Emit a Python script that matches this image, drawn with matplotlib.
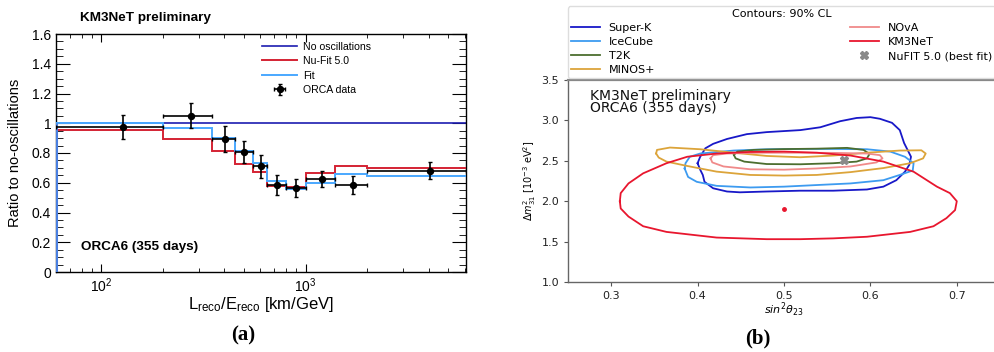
import numpy as np
import matplotlib
matplotlib.use("Agg")
import matplotlib.pyplot as plt
from matplotlib.ticker import FixedLocator, LogLocator, NullFormatter, MultipleLocator, FuncFormatter

plt.rcParams['mathtext.fontset'] = 'custom'
plt.rcParams['mathtext.rm'] = 'Liberation Sans'
plt.rcParams['mathtext.it'] = 'Liberation Sans:italic'

# ---- panel (a): L/E ratio ----
bin_edges = [60, 200, 350, 450, 550, 650, 800, 1000, 1400, 2000, 6100]
data_x = [128, 274, 401, 501, 602, 726, 900, 1200, 1700, 4050]
data_y = [0.975, 1.05, 0.895, 0.805, 0.71, 0.585, 0.565, 0.625, 0.585, 0.68]
data_err = [0.08, 0.085, 0.085, 0.075, 0.075, 0.07, 0.063, 0.053, 0.06, 0.058]
nufit_ratio = [0.952, 0.896, 0.813, 0.726, 0.670, 0.575, 0.570, 0.666, 0.711, 0.700]
fit_ratio = [1.0, 0.97, 0.90, 0.815, 0.735, 0.615, 0.56, 0.595, 0.657, 0.648]
noosc_ratio = 1.0
ratio_ticks = [0, 0.2, 0.4, 0.6, 0.8, 1.0, 1.2, 1.4, 1.6]

# ---- panel (b): 90% CL contours ----
superk_x = [0.400, 0.403, 0.409, 0.418, 0.434, 0.457, 0.480, 0.519, 0.542, 0.565, 0.584, 0.600,
            0.611, 0.625, 0.634, 0.639, 0.643, 0.647, 0.645, 0.640, 0.630, 0.615, 0.596, 0.557,
            0.519, 0.480, 0.449, 0.434, 0.418, 0.408, 0.406, 0.403]
superk_y = [2.47, 2.55, 2.655, 2.71, 2.77, 2.83, 2.855, 2.88, 2.915, 2.99, 3.03, 3.04,
            3.02, 2.97, 2.88, 2.72, 2.635, 2.55, 2.45, 2.365, 2.26, 2.18, 2.145, 2.13,
            2.13, 2.12, 2.11, 2.12, 2.16, 2.24, 2.325, 2.39]
icecube_x = [0.385, 0.386, 0.391, 0.403, 0.442, 0.480, 0.519, 0.557, 0.596, 0.623, 0.640, 0.650,
             0.649, 0.634, 0.615, 0.577, 0.538, 0.500, 0.461, 0.422, 0.399, 0.389]
icecube_y = [2.405, 2.47, 2.55, 2.59, 2.627, 2.643, 2.647, 2.647, 2.643, 2.614, 2.55, 2.47,
             2.38, 2.325, 2.26, 2.22, 2.20, 2.18, 2.17, 2.19, 2.24, 2.30]
t2k_x = [0.442, 0.446, 0.465, 0.500, 0.538, 0.573, 0.592, 0.599, 0.596, 0.584, 0.557, 0.519,
         0.480, 0.454, 0.444]
t2k_y = [2.573, 2.614, 2.635, 2.645, 2.65, 2.66, 2.635, 2.585, 2.53, 2.49, 2.47, 2.457,
         2.46, 2.49, 2.53]
minos_x = [0.352, 0.353, 0.368, 0.403, 0.442, 0.480, 0.519, 0.557, 0.596, 0.634, 0.659, 0.664,
           0.661, 0.646, 0.615, 0.577, 0.538, 0.500, 0.461, 0.422, 0.388, 0.364, 0.355]
minos_y = [2.59, 2.635, 2.664, 2.643, 2.60, 2.56, 2.544, 2.565, 2.60, 2.627, 2.63, 2.59,
           2.53, 2.47, 2.41, 2.36, 2.325, 2.317, 2.325, 2.366, 2.436, 2.49, 2.54]
nova_x = [0.415, 0.418, 0.434, 0.472, 0.519, 0.557, 0.596, 0.611, 0.614, 0.607, 0.577, 0.538,
          0.500, 0.461, 0.430, 0.417]
nova_y = [2.53, 2.57, 2.59, 2.60, 2.60, 2.598, 2.59, 2.57, 2.53, 2.48, 2.43, 2.405,
          2.39, 2.395, 2.43, 2.48]
km3_x = [0.310, 0.311, 0.320, 0.337, 0.364, 0.388, 0.422, 0.461, 0.500, 0.538, 0.577, 0.615,
         0.650, 0.677, 0.692, 0.700, 0.698, 0.688, 0.673, 0.646, 0.596, 0.557, 0.519, 0.480,
         0.422, 0.364, 0.337, 0.320, 0.311]
km3_y = [2.0, 2.10, 2.22, 2.345, 2.47, 2.55, 2.59, 2.61, 2.614, 2.60, 2.565, 2.49,
         2.365, 2.18, 2.10, 2.0, 1.89, 1.79, 1.69, 1.62, 1.56, 1.54, 1.53, 1.53,
         1.55, 1.62, 1.69, 1.81, 1.91]
km3_best = (0.500, 1.90)
nufit_best = (0.570, 2.51)

fig = plt.figure(figsize=(9.95, 3.52), dpi=100)

# ================= panel (a) =================
ax = fig.add_axes([56 / 995, 80 / 352, 410 / 995, 238 / 352])
sans = 'Liberation Sans'

ax.axhline(noosc_ratio, color='#1c1cb0', lw=1.2, label='No oscillations', zorder=2)
ax.stairs(nufit_ratio, bin_edges, baseline=None, color='#d42233', lw=1.4, label='Nu-Fit 5.0', zorder=3)
ax.stairs(fit_ratio, bin_edges, baseline=None, color='#4aa8ff', lw=1.4, label='Fit', zorder=3)
ax.vlines(bin_edges[0], 0, fit_ratio[0], color='#4a7fe0', lw=2.2, zorder=4)

xerr = [np.array(data_x) - np.array(bin_edges[:-1]), np.array(bin_edges[1:]) - np.array(data_x)]
ax.errorbar(data_x, data_y, yerr=data_err, xerr=xerr, fmt='o', color='black', ms=4.3,
            elinewidth=1.2, capsize=1.5, label='ORCA data', zorder=5)

ax.set_xscale('log')
ax.set_xlim(60, 6100)
ax.set_ylim(0, 1.6)
ax.yaxis.set_major_locator(FixedLocator(ratio_ticks))
ax.yaxis.set_minor_locator(MultipleLocator(0.05))
ax.yaxis.set_major_formatter(FuncFormatter(lambda v, p: f"{v:g}"))
ax.xaxis.set_major_locator(LogLocator(base=10))
ax.xaxis.set_minor_locator(LogLocator(base=10, subs=np.arange(2, 10)))
ax.xaxis.set_minor_formatter(NullFormatter())
ax.tick_params(which='both', direction='in', top=True, right=True, labelsize=10)
ax.tick_params(axis='y', which='major', length=10)
ax.tick_params(axis='y', which='minor', length=5)
ax.tick_params(axis='x', which='major', length=6, pad=3)
ax.tick_params(axis='x', which='minor', length=3)
for lab in ax.get_xticklabels() + ax.get_yticklabels():
    lab.set_family(sans)
for s in ax.spines.values():
    s.set_linewidth(1.0)

ax.set_ylabel('Ratio to no-oscillations', fontsize=10.5, family=sans, labelpad=7)
ax.set_xlabel(r'L$_{\rm reco}$/E$_{\rm reco}$ [km/GeV]', fontsize=12, family=sans,
              math_fontfamily='custom', labelpad=0)
ax.xaxis.set_label_coords(0.5, -0.095)

fig.text(80 / 995, 1 - 18 / 352, 'KM3NeT preliminary', fontsize=9.7, fontweight='bold',
         family=sans, va='center')
ax.text(0.06, 0.105, 'ORCA6 (355 days)', transform=ax.transAxes, fontsize=9.7,
        fontweight='bold', family=sans, va='center')

h, l = ax.get_legend_handles_labels()
ax.legend(h, l, loc='upper left', bbox_to_anchor=(0.49, 0.99), frameon=False,
          prop={'family': sans, 'size': 7.6}, handlelength=3.3, labelspacing=0.42,
          borderpad=0, handletextpad=0.6)

fig.text(243 / 995, 1 - 335 / 352, '(a)', fontsize=15, fontweight='bold',
         family='Liberation Serif', ha='center', va='center')

# ================= panel (b) =================
bx = fig.add_axes([568 / 995, 70 / 352, 432 / 995, 202 / 352])

contours = [
    (superk_x, superk_y, '#1818c8', 'Super-K'),
    (icecube_x, icecube_y, '#3d9bf0', 'IceCube'),
    (t2k_x, t2k_y, '#4c6e2f', 'T2K'),
    (minos_x, minos_y, '#dca43a', 'MINOS+'),
    (nova_x, nova_y, '#f08a8a', 'NOvA'),
    (km3_x, km3_y, '#e8162e', 'KM3NeT'),
]
handles = {}
for cx, cy, col, name in contours:
    cx = list(cx) + [cx[0]]
    cy = list(cy) + [cy[0]]
    handles[name], = bx.plot(cx, cy, color=col, lw=1.3)
bx.plot(*km3_best, 'o', color='#e8162e', ms=2.5)
handles['NuFIT 5.0 (best fit)'], = bx.plot(*nufit_best, 'X', color='#8a8a8a', ms=6, ls='none')

bx.set_xlim(0.25, 0.75)
bx.set_ylim(1.0, 3.5)
bx.xaxis.set_major_locator(MultipleLocator(0.1))
bx.yaxis.set_major_locator(MultipleLocator(0.5))
bx.yaxis.set_major_formatter(FuncFormatter(lambda v, p: f"{v:.1f}"))
bx.tick_params(labelsize=8, length=3, color='#555555', labelcolor='#222222')
for s in bx.spines.values():
    s.set_color('#666666')
    s.set_linewidth(1.0)
bx.spines['top'].set_linewidth(1.6)
bx.spines['top'].set_color('#888888')

bx.set_xlabel(r'$sin^2\theta_{23}$', fontsize=8, math_fontfamily='dejavusans', labelpad=0)
bx.set_ylabel(r'$\Delta m^2_{31}$ [$10^{-3}$ eV$^2$]', fontsize=7, math_fontfamily='dejavusans',
              labelpad=2)
bx.text(0.05, 0.955, 'KM3NeT preliminary\nORCA6 (355 days)', transform=bx.transAxes,
        fontsize=10, va='top', linespacing=0.8, color='#111111')

order = ['Super-K', 'IceCube', 'T2K', 'MINOS+', 'NOvA', 'KM3NeT', 'NuFIT 5.0 (best fit)']
leg_h = [handles[k] for k in order]
leg_h.insert(7, plt.Line2D([], [], ls='none'))
order.insert(7, '')
bx.legend(leg_h, order, loc='lower left', bbox_to_anchor=(0.0, 1.01, 0.988, 0.33), mode='expand',
          ncol=2, title='Contours: 90% CL', fontsize=8, title_fontsize=8,
          labelspacing=0.36, handlelength=2.6, borderaxespad=0, borderpad=0.25,
          framealpha=1, edgecolor='#dddddd', fancybox=True)

fig.text(758 / 995, 1 - 338 / 352, '(b)', fontsize=15, fontweight='bold',
         family='Liberation Serif', ha='center', va='center')

fig.savefig('out.png', dpi=100)
